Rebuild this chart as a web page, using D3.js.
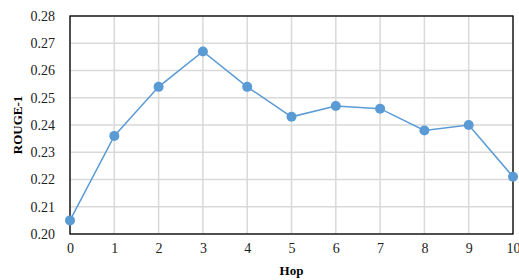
<!DOCTYPE html>
<html>
<head>
<meta charset="utf-8">
<script src="https://cdn.jsdelivr.net/npm/d3@7"></script>
<style>
body { margin: 0; background: #fff; }
</style>
</head>
<body>
<div id="chart"></div>
<script>
var hops = [0, 1, 2, 3, 4, 5, 6, 7, 8, 9, 10];
var rouge = [0.205, 0.236, 0.254, 0.267, 0.254, 0.243, 0.247, 0.246, 0.238, 0.240, 0.221];
var yTicks = [0.20, 0.21, 0.22, 0.23, 0.24, 0.25, 0.26, 0.27, 0.28];

var width = 519, height = 280;
var margin = {top: 16, right: 6, bottom: 46, left: 70};

var svg = d3.select("#chart").append("svg")
	.attr("width", width)
	.attr("height", height);

var x = d3.scaleLinear().domain([0, 10]).range([margin.left, width - margin.right]);
var y = d3.scaleLinear().domain([0.20, 0.28]).range([height - margin.bottom, margin.top]);

// grid lines
svg.append("g").selectAll("line.h")
	.data(yTicks)
	.enter().append("line")
	.attr("x1", x(0)).attr("x2", x(10))
	.attr("y1", function(d) { return y(d); })
	.attr("y2", function(d) { return y(d); })
	.attr("stroke", "#d9d9d9")
	.attr("stroke-width", 1.5);

svg.append("g").selectAll("line.v")
	.data(hops)
	.enter().append("line")
	.attr("y1", y(0.20)).attr("y2", y(0.28))
	.attr("x1", function(d) { return x(d); })
	.attr("x2", function(d) { return x(d); })
	.attr("stroke", "#d9d9d9")
	.attr("stroke-width", 1.5);

// frame
svg.append("rect")
	.attr("x", x(0)).attr("y", y(0.28))
	.attr("width", x(10) - x(0))
	.attr("height", y(0.20) - y(0.28))
	.attr("fill", "none")
	.attr("stroke", "#000")
	.attr("stroke-width", 1.3);

// axes
var xAxis = svg.append("g")
	.attr("transform", "translate(0," + y(0.20) + ")")
	.call(d3.axisBottom(x).tickValues(hops).tickFormat(d3.format("d")).tickSize(0).tickPadding(9));
var yAxis = svg.append("g")
	.attr("transform", "translate(" + x(0) + ",0)")
	.call(d3.axisLeft(y).tickValues(yTicks).tickFormat(d3.format(".2f")).tickSize(0).tickPadding(15));
[xAxis, yAxis].forEach(function(a) {
	a.select(".domain").remove();
	a.selectAll("text")
		.attr("font-family", "Liberation Serif, Times New Roman, serif")
		.attr("font-size", "14px")
		.attr("fill", "#222");
});

// line + markers
var line = d3.line()
	.x(function(d, i) { return x(hops[i]); })
	.y(function(d) { return y(d); });

svg.append("path")
	.datum(rouge)
	.attr("d", line)
	.attr("fill", "none")
	.attr("stroke", "#5b9bd5")
	.attr("stroke-width", 1.5);

svg.selectAll("circle")
	.data(rouge)
	.enter().append("circle")
	.attr("cx", function(d, i) { return x(hops[i]); })
	.attr("cy", function(d) { return y(d); })
	.attr("r", 5)
	.attr("fill", "#5b9bd5");

// axis titles
svg.append("text")
	.attr("x", (x(0) + x(10)) / 2)
	.attr("y", 275)
	.attr("text-anchor", "middle")
	.attr("font-family", "Liberation Serif, Times New Roman, serif")
	.attr("font-weight", "bold")
	.attr("font-size", "13px")
	.text("Hop");

svg.append("text")
	.attr("transform", "translate(22," + (y(0.24)) + ") rotate(-90)")
	.attr("text-anchor", "middle")
	.attr("font-family", "Liberation Serif, Times New Roman, serif")
	.attr("font-weight", "bold")
	.attr("font-size", "13px")
	.text("ROUGE-1");
</script>
</body>
</html>
